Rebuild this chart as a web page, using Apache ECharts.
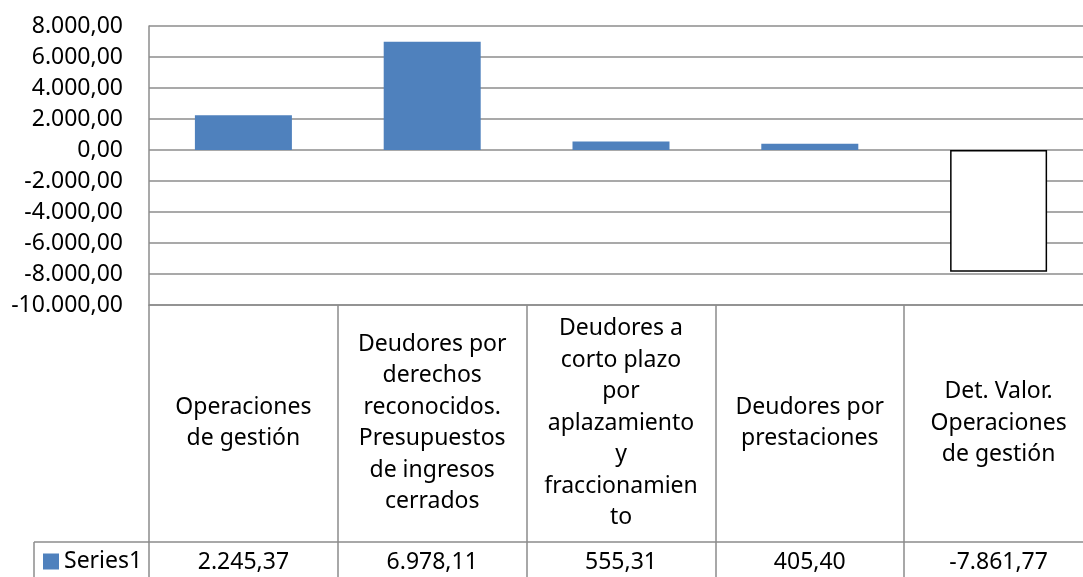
<!DOCTYPE html>
<html>
<head>
<meta charset="utf-8">
<script src="https://cdn.jsdelivr.net/npm/echarts@6/dist/echarts.min.js"></script>
<style>
  html, body { margin: 0; padding: 0; background: #fff; }
  #chart { width: 1083px; height: 577px; }
</style>
</head>
<body>
<div id="chart"></div>
<script>
var categories = [
    'Operaciones\nde gestión',
    'Deudores por\nderechos\nreconocidos.\nPresupuestos\nde ingresos\ncerrados',
    'Deudores a\ncorto plazo\npor\naplazamiento\ny\nfraccionamien\nto',
    'Deudores por\nprestaciones',
    'Det. Valor.\nOperaciones\nde gestión'
];
var values = [2245.37, 6978.11, 555.31, 405.40, -7861.77];
var seriesName = 'Series1';

// formato español: 1.234,56
function fmt(v) {
    var neg = v < 0;
    var parts = Math.abs(v).toFixed(2).split('.');
    var ent = parts[0].replace(/\B(?=(\d{3})+(?!\d))/g, '.');
    return (neg ? '-' : '') + ent + ',' + parts[1];
}

var dom = document.getElementById('chart');
var myChart = echarts.init(dom);
var font = 'Noto Sans';
var fontSize = 23;
var gridColor = '#8c8c8c';

var option = {
    animation: false,
    grid: { left: 149, top: 26, width: 944, height: 279, containLabel: false, outerBoundsMode: 'none' },
    legend: {
        data: [seriesName],
        left: 38,
        top: 545,
        icon: 'rect',
        itemWidth: 16,
        itemHeight: 16,
        itemGap: 4,
        textStyle: { fontFamily: font, fontSize: 23, color: '#000' }
    },
    xAxis: [{
        type: 'category',
        data: categories,
        position: 'bottom',
        axisLine: { onZero: false, lineStyle: { color: gridColor, width: 1.5 } },
        axisTick: { show: true, length: 272, lineStyle: { color: gridColor, width: 1.5 } },
        axisLabel: {
            interval: 0,
            margin: 118,
            verticalAlign: 'middle',
            lineHeight: 31.5,
            color: '#000',
            fontFamily: font,
            fontSize: fontSize
        }
    }, {
        type: 'category',
        data: values.map(fmt),
        position: 'bottom',
        offset: 237,
        axisLine: { onZero: false, lineStyle: { color: gridColor, width: 1.5 } },
        axisTick: { show: false },
        axisLabel: {
            interval: 0,
            margin: 20,
            verticalAlign: 'middle',
            color: '#000',
            fontFamily: font,
            fontSize: fontSize
        }
    }],
    yAxis: {
        type: 'value',
        min: -10000,
        max: 8000,
        interval: 2000,
        axisLine: { show: true, lineStyle: { color: gridColor, width: 1.5 } },
        axisTick: { show: false },
        splitLine: { lineStyle: { color: gridColor, width: 1.5 } },
        axisLabel: {
            margin: 26,
            color: '#000',
            fontFamily: font,
            fontSize: fontSize,
            formatter: function (v) { return fmt(v); }
        }
    },
    graphic: [
        // celda de la leyenda en la tabla de datos
        { type: 'line', shape: { x1: 34, y1: 542, x2: 149, y2: 542 }, style: { stroke: gridColor, lineWidth: 1.5 } },
        { type: 'line', shape: { x1: 34, y1: 542, x2: 34, y2: 577 }, style: { stroke: gridColor, lineWidth: 1.5 } }
    ],
    series: [{
        name: seriesName,
        type: 'bar',
        barWidth: 97,
        itemStyle: { color: '#4F81BD' },
        data: values.map(function (v) {
            if (v < 0) {
                return { value: v, itemStyle: { color: '#fff', borderColor: '#000', borderWidth: 1.5 } };
            }
            return v;
        })
    }]
};

myChart.setOption(option);
</script>
</body>
</html>
